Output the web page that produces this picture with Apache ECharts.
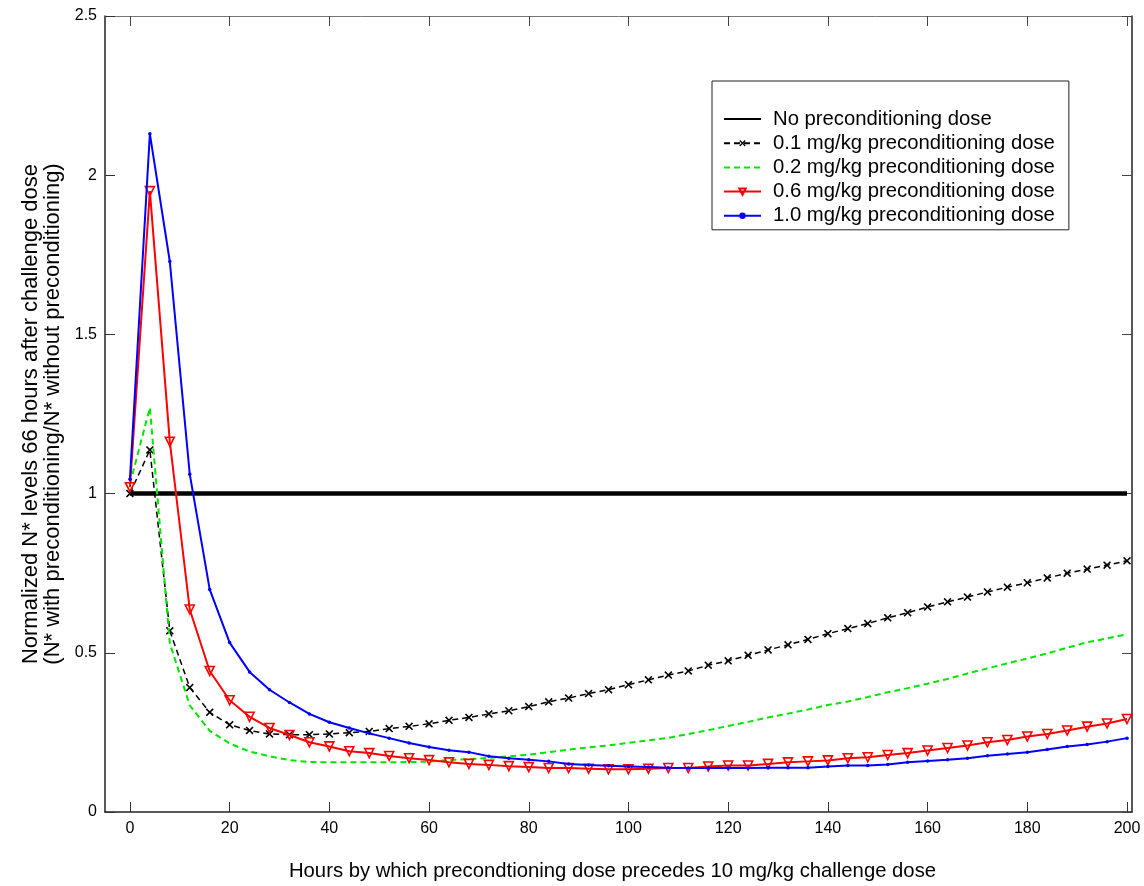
<!DOCTYPE html>
<html>
<head>
<meta charset="utf-8">
<script src="https://cdn.jsdelivr.net/npm/echarts@6/dist/echarts.min.js"></script>
<style>
  html, body { margin: 0; padding: 0; background: #ffffff; }
  #chart { width: 1144px; height: 886px; }
</style>
</head>
<body>
<div id="chart"></div>
<script>
// Time offsets (hours) between preconditioning dose and the 10 mg/kg challenge dose
const hours = [0, 4, 8, 12, 16, 20, 24, 28, 32, 36, 40, 44, 48, 52, 56, 60, 64, 68, 72, 76,
  80, 84, 88, 92, 96, 100, 104, 108, 112, 116, 120, 124, 128, 132, 136, 140, 144, 148, 152, 156,
  160, 164, 168, 172, 176, 180, 184, 188, 192, 196, 200];

// Reference level: no preconditioning dose
const noneHours = [0, 200];
const noneVals = [1, 1];

// Normalized N* levels for each preconditioning dose
const dose01 = [1.0, 1.137, 0.569, 0.391, 0.313, 0.274, 0.256, 0.245, 0.243, 0.243, 0.245, 0.249, 0.253, 0.262, 0.269, 0.277,
  0.288, 0.297, 0.308, 0.318, 0.331, 0.346, 0.358, 0.372, 0.384, 0.400, 0.415, 0.430, 0.443, 0.461, 0.475, 0.492,
  0.509, 0.525, 0.542, 0.560, 0.576, 0.592, 0.610, 0.626, 0.644, 0.660, 0.675, 0.691, 0.706, 0.720, 0.735, 0.750,
  0.763, 0.775, 0.789];
const dose02 = [1.03, 1.27, 0.53, 0.335, 0.255, 0.215, 0.19, 0.175, 0.163, 0.157, 0.156, 0.156, 0.156, 0.156, 0.157, 0.158,
  0.163, 0.166, 0.170, 0.175, 0.180, 0.188, 0.196, 0.203, 0.209, 0.217, 0.225, 0.233, 0.245, 0.257, 0.270, 0.283,
  0.297, 0.309, 0.322, 0.336, 0.347, 0.361, 0.376, 0.389, 0.403, 0.418, 0.435, 0.451, 0.467, 0.482, 0.498, 0.516,
  0.533, 0.545, 0.558];
const dose06 = [1.02, 1.95, 1.163, 0.636, 0.443, 0.351, 0.299, 0.264, 0.242, 0.219, 0.206, 0.191, 0.185, 0.176, 0.169, 0.163,
  0.156, 0.151, 0.148, 0.144, 0.141, 0.138, 0.138, 0.136, 0.134, 0.134, 0.136, 0.138, 0.138, 0.143, 0.146, 0.146,
  0.151, 0.156, 0.159, 0.162, 0.169, 0.172, 0.179, 0.185, 0.193, 0.201, 0.209, 0.219, 0.226, 0.237, 0.245, 0.256,
  0.268, 0.278, 0.292];
const dose10 = [1.045, 2.13, 1.729, 1.061, 0.699, 0.532, 0.440, 0.384, 0.344, 0.308, 0.282, 0.264, 0.247, 0.232, 0.217, 0.204,
  0.194, 0.188, 0.175, 0.169, 0.164, 0.159, 0.151, 0.148, 0.145, 0.143, 0.141, 0.139, 0.138, 0.138, 0.138, 0.138,
  0.139, 0.139, 0.139, 0.143, 0.146, 0.146, 0.149, 0.156, 0.160, 0.164, 0.169, 0.177, 0.182, 0.188, 0.196, 0.206,
  0.212, 0.221, 0.232];

// Axis ticks and text
const xTicks = [0, 20, 40, 60, 80, 100, 120, 140, 160, 180, 200];
const yTicks = [0, 0.5, 1, 1.5, 2, 2.5];
const seriesNames = [
  'No preconditioning dose',
  '0.1 mg/kg preconditioning dose',
  '0.2 mg/kg preconditioning dose',
  '0.6 mg/kg preconditioning dose',
  '1.0 mg/kg preconditioning dose'
];
const xTitle = 'Hours by which precondtioning dose precedes 10 mg/kg challenge dose';
const yTitle = 'Normalized N* levels 66 hours after challenge dose\n(N* with preconditioning/N* without preconditioning)';

const FONT = '"Liberation Sans", Arial, Helvetica, sans-serif';

const pairs = (xs, ys) => xs.map((x, i) => [x, ys[i]]);

// Filled "x" cross marker
const crossPath = 'path://M0,1.4L1.4,0L5,3.6L8.6,0L10,1.4L6.4,5L10,8.6L8.6,10L5,6.4L1.4,10L0,8.6L3.6,5Z';

// Legend entries: lines without markers get an invisible symbol
const hiddenSymbol = { color: 'rgba(0,0,0,0)', borderWidth: 0 };
const legendData = seriesNames.map((name, i) =>
  (i === 0 || i === 2) ? { name: name, itemStyle: hiddenSymbol } : { name: name });

const chart = echarts.init(document.getElementById('chart'), null, { renderer: 'canvas' });

const frameLine = { show: true, onZero: false, lineStyle: { color: '#222', width: 1.5 } };

chart.setOption({
  backgroundColor: '#ffffff',
  animation: false,
  textStyle: { fontFamily: FONT },
  grid: { left: 105, top: 16, right: 12, bottom: 71, containLabel: false },
  legend: {
    orient: 'vertical',
    left: 712,
    top: 81,
    padding: [28, 14, 4, 11],
    itemGap: 4.2,
    itemWidth: 37,
    itemHeight: 8,
    backgroundColor: '#ffffff',
    borderColor: '#222',
    borderWidth: 1,
    borderRadius: 0,
    textStyle: { fontFamily: FONT, fontSize: 20.3, color: '#000', padding: [0, 0, 0, 7] },
    data: legendData
  },
  xAxis: [
    {
      type: 'value',
      position: 'bottom',
      min: -5,
      max: 201,
      axisLine: frameLine,
      axisTick: { show: true, inside: true, length: 10, customValues: xTicks, lineStyle: { color: '#333', width: 1 } },
      axisLabel: { show: true, customValues: xTicks, margin: 9, fontSize: 16, color: '#000', fontFamily: FONT },
      splitLine: { show: false },
      name: xTitle,
      nameLocation: 'middle',
      nameGap: 49,
      nameTextStyle: { fontSize: 20.3, color: '#000', fontFamily: FONT, padding: [0, 12, 0, 0] }
    },
    {
      type: 'value',
      position: 'top',
      min: -5,
      max: 201,
      axisLine: { show: true, onZero: false, lineStyle: { color: '#777', width: 1 } },
      axisTick: { show: true, inside: true, length: 10, customValues: xTicks, lineStyle: { color: '#444', width: 1 } },
      axisLabel: { show: false },
      splitLine: { show: false }
    }
  ],
  yAxis: [
    {
      type: 'value',
      position: 'left',
      min: yTicks[0],
      max: yTicks[yTicks.length - 1],
      interval: 0.5,
      axisLine: frameLine,
      axisTick: { show: true, inside: true, length: 10, lineStyle: { color: '#333', width: 1 } },
      axisLabel: { show: true, margin: 8, fontSize: 16, color: '#000', fontFamily: FONT },
      splitLine: { show: false },
      name: yTitle,
      nameLocation: 'middle',
      nameRotate: 90,
      nameGap: 41,
      nameTextStyle: { fontSize: 22, lineHeight: 22, color: '#000', fontFamily: FONT, align: 'center' }
    },
    {
      type: 'value',
      position: 'right',
      min: yTicks[0],
      max: yTicks[yTicks.length - 1],
      interval: 0.5,
      axisLine: frameLine,
      axisTick: { show: true, inside: true, length: 10, lineStyle: { color: '#444', width: 1 } },
      axisLabel: { show: false },
      splitLine: { show: false }
    }
  ],
  series: [
    {
      name: seriesNames[0],
      type: 'line',
      data: pairs(noneHours, noneVals),
      symbol: 'none',
      lineStyle: { color: '#000', width: 4.5, type: 'solid' },
      itemStyle: { color: '#000' },
      z: 2
    },
    {
      name: seriesNames[1],
      type: 'line',
      data: pairs(hours, dose01),
      symbol: crossPath,
      symbolSize: 8,
      lineStyle: { color: '#000', width: 1.5, type: [6, 4] },
      itemStyle: { color: '#000' },
      z: 3
    },
    {
      name: seriesNames[2],
      type: 'line',
      data: pairs(hours, dose02),
      symbol: 'none',
      lineStyle: { color: '#00e600', width: 2, type: [6, 4] },
      itemStyle: { color: '#00e600' },
      z: 4
    },
    {
      name: seriesNames[3],
      type: 'line',
      data: pairs(hours, dose06),
      symbol: 'triangle',
      symbolRotate: 180,
      symbolSize: 9,
      lineStyle: { color: '#ff0000', width: 2 },
      itemStyle: { color: 'rgba(255,255,255,0)', borderColor: '#ff0000', borderWidth: 1.6 },
      z: 5
    },
    {
      name: seriesNames[4],
      type: 'line',
      data: pairs(hours, dose10),
      symbol: 'circle',
      symbolSize: 3.5,
      lineStyle: { color: '#0000ff', width: 2 },
      itemStyle: { color: '#0000ff' },
      z: 6
    }
  ]
});
</script>
</body>
</html>
